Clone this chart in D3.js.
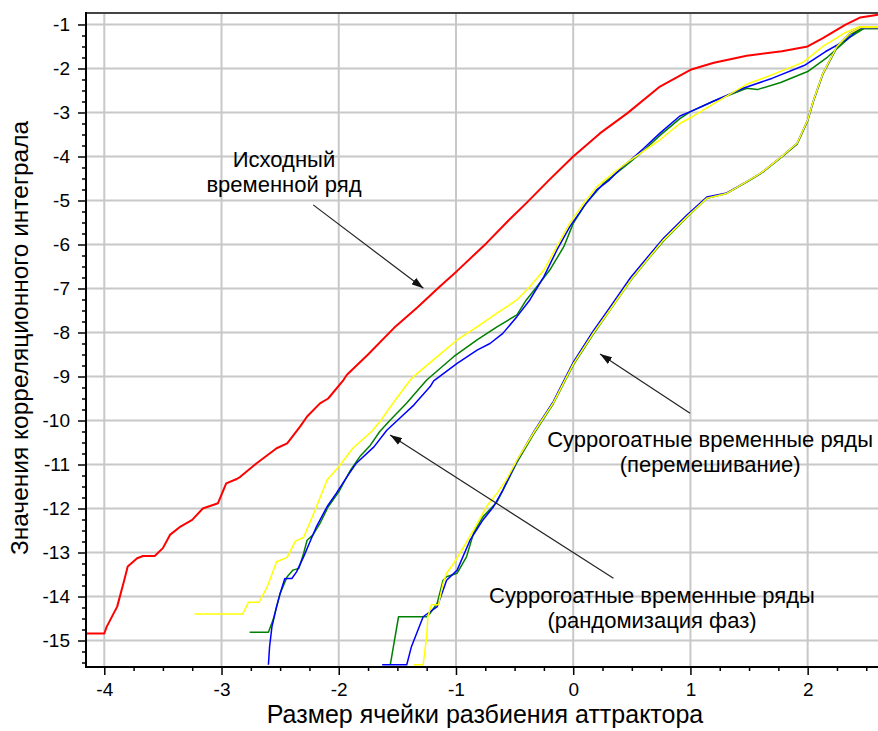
<!DOCTYPE html>
<html>
<head>
<meta charset="utf-8">
<title>Корреляционный интеграл</title>
<script src="https://cdn.jsdelivr.net/npm/d3@7"></script>
<style>
body { margin: 0; background: #fff; }
svg text { font-family: "Liberation Sans", Arial, sans-serif; fill: #000; }
.grid line { stroke: #c8c8c8; stroke-width: 2px; }
.axis line { stroke: #000; stroke-width: 1.5px; }
.axis path { display: none; }
.axis text { font-size: 19px; }
.series { fill: none; stroke-linejoin: round; }
.note { font-size: 22px; text-anchor: middle; }
.pointer { stroke: #222; stroke-width: 1.2px; }
</style>
</head>
<body>
<script>
// axis ticks
var xTicks = [-4, -3, -2, -1, 0, 1, 2];
var yTicks = [-1, -2, -3, -4, -5, -6, -7, -8, -9, -10, -11, -12, -13, -14, -15];

// original series (red)
var original = [[-4.16,-14.84],[-4.0,-14.84],[-3.98,-14.69],[-3.89,-14.23],[-3.83,-13.63],[-3.80,-13.32],[-3.72,-13.13],[-3.67,-13.08],[-3.57,-13.08],[-3.50,-12.90],[-3.44,-12.60],[-3.35,-12.41],[-3.25,-12.26],[-3.16,-12.0],[-3.03,-11.88],[-2.96,-11.43],[-2.87,-11.33],[-2.84,-11.28],[-2.70,-10.97],[-2.53,-10.63],[-2.44,-10.52],[-2.33,-10.14],[-2.27,-9.91],[-2.16,-9.61],[-2.09,-9.50],[-1.96,-9.08],[-1.93,-8.96],[-1.75,-8.50],[-1.53,-7.90],[-1.33,-7.43],[-1.14,-6.96],[-0.99,-6.60],[-0.74,-5.97],[-0.55,-5.45],[-0.40,-5.06],[-0.20,-4.52],[0.0,-4.0],[0.23,-3.47],[0.46,-3.02],[0.74,-2.41],[1.0,-2.03],[1.20,-1.87],[1.48,-1.71],[1.78,-1.61],[2.0,-1.50],[2.13,-1.31],[2.32,-1.01],[2.45,-0.84],[2.6,-0.78]];

// surrogates, phase randomisation
var phaseYellow = [[-3.23,-14.40],[-2.82,-14.40],[-2.77,-14.13],[-2.68,-14.13],[-2.61,-13.78],[-2.53,-13.21],[-2.44,-13.11],[-2.37,-12.74],[-2.30,-12.66],[-2.19,-11.96],[-2.10,-11.35],[-2.0,-11.05],[-1.88,-10.63],[-1.72,-10.25],[-1.65,-10.03],[-1.53,-9.58],[-1.39,-9.08],[-1.33,-8.93],[-1.16,-8.55],[-0.99,-8.17],[-0.82,-7.87],[-0.65,-7.56],[-0.48,-7.26],[-0.37,-6.96],[-0.25,-6.58],[-0.14,-6.05],[-0.03,-5.52],[0.09,-5.06],[0.20,-4.69],[0.34,-4.38],[0.49,-4.08],[0.60,-3.88],[0.74,-3.62],[0.91,-3.25],[1.0,-3.12],[1.20,-2.80],[1.48,-2.36],[1.70,-2.14],[1.96,-1.86],[2.13,-1.50],[2.31,-1.2],[2.44,-1.05],[2.6,-1.05]];
var phaseGreen = [[-2.76,-14.81],[-2.60,-14.81],[-2.56,-14.53],[-2.50,-13.93],[-2.44,-13.55],[-2.39,-13.40],[-2.34,-13.36],[-2.30,-13.02],[-2.27,-12.72],[-2.22,-12.60],[-2.16,-12.34],[-2.09,-11.96],[-2.0,-11.62],[-1.90,-11.13],[-1.82,-10.82],[-1.73,-10.56],[-1.65,-10.25],[-1.56,-9.99],[-1.42,-9.60],[-1.25,-9.08],[-1.02,-8.55],[-0.82,-8.17],[-0.65,-7.87],[-0.48,-7.60],[-0.40,-7.26],[-0.31,-6.96],[-0.20,-6.58],[-0.08,-6.05],[0.0,-5.52],[0.11,-5.06],[0.26,-4.61],[0.40,-4.31],[0.49,-4.12],[0.60,-3.87],[0.74,-3.52],[0.91,-3.14],[1.0,-2.98],[1.20,-2.74],[1.48,-2.45],[1.57,-2.48],[1.77,-2.32],[2.0,-2.07],[2.17,-1.74],[2.36,-1.29],[2.48,-1.09],[2.6,-1.09]];
var phaseBlue = [[-2.60,-15.55],[-2.59,-15.14],[-2.57,-14.69],[-2.53,-14.23],[-2.50,-13.93],[-2.46,-13.59],[-2.40,-13.59],[-2.36,-13.44],[-2.30,-13.10],[-2.24,-12.72],[-2.19,-12.41],[-2.10,-11.96],[-2.02,-11.65],[-1.93,-11.28],[-1.85,-10.97],[-1.70,-10.60],[-1.59,-10.22],[-1.48,-9.95],[-1.36,-9.65],[-1.22,-9.23],[-1.19,-9.10],[-0.99,-8.70],[-0.82,-8.40],[-0.71,-8.25],[-0.60,-8.02],[-0.48,-7.64],[-0.37,-7.26],[-0.25,-6.73],[-0.14,-6.13],[-0.03,-5.60],[0.09,-5.14],[0.20,-4.76],[0.31,-4.53],[0.42,-4.23],[0.49,-4.08],[0.60,-3.82],[0.74,-3.47],[0.91,-3.08],[1.0,-2.98],[1.20,-2.74],[1.45,-2.45],[1.70,-2.22],[1.98,-1.92],[2.15,-1.62],[2.33,-1.35],[2.45,-1.08],[2.6,-1.08]];

// surrogates, shuffling
var shuffleYellow = [[-1.36,-15.55],[-1.28,-15.55],[-1.25,-14.91],[-1.24,-14.46],[-1.21,-14.19],[-1.15,-14.19],[-1.11,-13.70],[-1.08,-13.47],[-1.02,-13.25],[-0.94,-12.90],[-0.85,-12.49],[-0.74,-11.96],[-0.65,-11.65],[-0.57,-11.35],[-0.48,-10.90],[-0.34,-10.29],[-0.17,-9.60],[0.0,-8.72],[0.17,-8.02],[0.31,-7.50],[0.49,-6.81],[0.63,-6.35],[0.77,-5.90],[0.97,-5.37],[1.14,-4.95],[1.31,-4.84],[1.48,-4.57],[1.60,-4.38],[1.77,-4.02],[1.91,-3.70],[2.0,-3.17],[2.05,-2.72],[2.13,-2.11],[2.25,-1.50],[2.36,-1.20],[2.45,-1.07],[2.6,-1.07]];
var shuffleGreen = [[-1.56,-15.55],[-1.49,-14.46],[-1.25,-14.46],[-1.22,-14.38],[-1.16,-14.15],[-1.11,-13.63],[-1.08,-13.55],[-0.99,-13.47],[-0.91,-13.10],[-0.85,-12.56],[-0.77,-12.19],[-0.65,-11.85],[-0.57,-11.43],[-0.48,-10.95],[-0.34,-10.32],[-0.17,-9.62],[0.0,-8.74],[0.17,-8.04],[0.31,-7.51],[0.49,-6.82],[0.63,-6.36],[0.77,-5.92],[0.97,-5.38],[1.14,-4.95],[1.31,-4.84],[1.48,-4.58],[1.60,-4.39],[1.77,-4.03],[1.91,-3.72],[2.0,-3.19],[2.05,-2.74],[2.13,-2.13],[2.25,-1.52],[2.36,-1.22],[2.48,-1.09],[2.6,-1.09]];
var shuffleBlue = [[-1.63,-15.55],[-1.42,-15.55],[-1.38,-15.14],[-1.28,-14.46],[-1.16,-14.23],[-1.08,-13.63],[-0.99,-13.40],[-0.88,-12.72],[-0.77,-12.26],[-0.68,-11.96],[-0.60,-11.58],[-0.48,-10.92],[-0.34,-10.27],[-0.17,-9.57],[0.0,-8.68],[0.17,-7.97],[0.31,-7.44],[0.49,-6.75],[0.63,-6.30],[0.77,-5.86],[0.97,-5.33],[1.14,-4.92],[1.31,-4.83],[1.48,-4.57],[1.60,-4.38],[1.77,-4.02],[1.91,-3.70],[2.0,-3.17],[2.05,-2.72],[2.13,-2.11],[2.25,-1.50],[2.36,-1.20],[2.45,-1.08],[2.6,-1.08]];

// labels with their pointers (data units)
var notes = [
  {lines: ["Исходный", "временной ряд"], at: [-2.467, -4.24], from: [-2.218, -5.10], to: [-1.278, -6.995]},
  {lines: ["Суррогоатные временные ряды", "(перемешивание)"], at: [1.168, -10.595], from: [0.997, -9.836], to: [0.229, -8.489]},
  {lines: ["Суррогоатные временные ряды", "(рандомизация фаз)"], at: [0.672, -14.148], from: [0.343, -13.586], to: [-1.562, -10.33]}
];

var width = 878, height = 731;
var plot = {left: 86, right: 878, top: 13, bottom: 667};

var svg = d3.select("body").append("svg")
    .attr("width", width)
    .attr("height", height);

var x = d3.scaleLinear().domain([-4.156, 2.6]).range([plot.left, plot.right]);
var y = d3.scaleLinear().domain([-15.602, -0.739]).range([plot.bottom, plot.top]);

svg.append("defs").append("clipPath").attr("id", "clip")
  .append("rect")
    .attr("x", plot.left).attr("y", plot.top)
    .attr("width", plot.right - plot.left).attr("height", plot.bottom - plot.top);

var marker = svg.select("defs").append("marker")
    .attr("id", "head")
    .attr("viewBox", "0 0 12 8")
    .attr("refX", 12).attr("refY", 4)
    .attr("markerWidth", 12).attr("markerHeight", 8)
    .attr("markerUnits", "userSpaceOnUse")
    .attr("orient", "auto");
marker.append("path").attr("d", "M0,0L12,4L0,8Z").attr("fill", "#111");

// grid
var grid = svg.append("g").attr("class", "grid");
grid.selectAll(".gx").data(xTicks).enter().append("line")
    .attr("x1", function(d) { return x(d); }).attr("x2", function(d) { return x(d); })
    .attr("y1", plot.top).attr("y2", plot.bottom);
grid.selectAll(".gy").data(yTicks).enter().append("line")
    .attr("x1", plot.left).attr("x2", plot.right)
    .attr("y1", function(d) { return y(d); }).attr("y2", function(d) { return y(d); });

// curves
var line = d3.line()
    .x(function(d) { return x(d[0]); })
    .y(function(d) { return y(d[1]); });

var series = [
  {data: phaseGreen, color: "#008000", w: 1.5},
  {data: phaseBlue, color: "#0000ff", w: 1.5},
  {data: phaseYellow, color: "#ffff00", w: 1.5},
  {data: shuffleGreen, color: "#008000", w: 1.5},
  {data: shuffleBlue, color: "#0000ff", w: 1.5},
  {data: shuffleYellow, color: "#ffff00", w: 1.5},
  {data: original, color: "#ff0000", w: 2}
];

svg.append("g").attr("clip-path", "url(#clip)")
  .selectAll("path").data(series).enter().append("path")
    .attr("class", "series")
    .attr("stroke", function(d) { return d.color; })
    .attr("stroke-width", function(d) { return d.w; })
    .attr("d", function(d) { return line(d.data); });

// axes
var fmt = function(d) { return String(d); };

svg.append("g").attr("class", "axis")
    .attr("transform", "translate(" + plot.left + ",0)")
    .call(d3.axisLeft(y).tickValues(yTicks).tickSize(8).tickPadding(8).tickFormat(fmt));
svg.append("g").attr("class", "axis")
    .attr("transform", "translate(" + plot.left + ",0)")
    .call(d3.axisLeft(y).tickValues(d3.range(-15.5, -0.9, 0.25).filter(function(v) { return v % 1 !== 0; }))
      .tickSize(4).tickFormat(""));

svg.append("g").attr("class", "axis")
    .attr("transform", "translate(0," + plot.bottom + ")")
    .call(d3.axisBottom(x).tickValues(xTicks).tickSize(8).tickPadding(8).tickFormat(fmt));
svg.append("g").attr("class", "axis")
    .attr("transform", "translate(0," + plot.bottom + ")")
    .call(d3.axisBottom(x).tickValues(d3.range(-4, 2.6, 0.25).filter(function(v) { return v % 1 !== 0; }))
      .tickSize(4).tickFormat(""));

// frame
svg.append("line").attr("x1", plot.left).attr("x2", plot.right)
    .attr("y1", plot.top).attr("y2", plot.top)
    .attr("stroke", "#444").attr("stroke-width", 2);
svg.append("line").attr("x1", plot.left).attr("x2", plot.left)
    .attr("y1", plot.top - 1).attr("y2", plot.bottom + 1)
    .attr("stroke", "#000").attr("stroke-width", 2);
svg.append("line").attr("x1", plot.left).attr("x2", plot.right)
    .attr("y1", plot.bottom).attr("y2", plot.bottom)
    .attr("stroke", "#000").attr("stroke-width", 2);

// axis titles
svg.append("text")
    .attr("x", (plot.left + plot.right) / 2 + 3).attr("y", 723)
    .attr("text-anchor", "middle").style("font-size", "25px")
    .text("Размер ячейки разбиения аттрактора");
svg.append("text")
    .attr("transform", "translate(28," + ((plot.top + plot.bottom) / 2 - 2) + ") rotate(-90)")
    .attr("text-anchor", "middle").style("font-size", "24.5px")
    .text("Значения корреляционного интеграла");

// annotations
var ann = svg.append("g");
notes.forEach(function(n) {
  ann.append("line").attr("class", "pointer")
      .attr("x1", x(n.from[0])).attr("y1", y(n.from[1]))
      .attr("x2", x(n.to[0])).attr("y2", y(n.to[1]))
      .attr("marker-end", "url(#head)");
  var t = ann.append("text").attr("class", "note")
      .attr("x", x(n.at[0])).attr("y", y(n.at[1]));
  n.lines.forEach(function(s, i) {
    t.append("tspan").attr("x", x(n.at[0])).attr("dy", i ? 25 : 0).text(s);
  });
});
</script>
</body>
</html>
